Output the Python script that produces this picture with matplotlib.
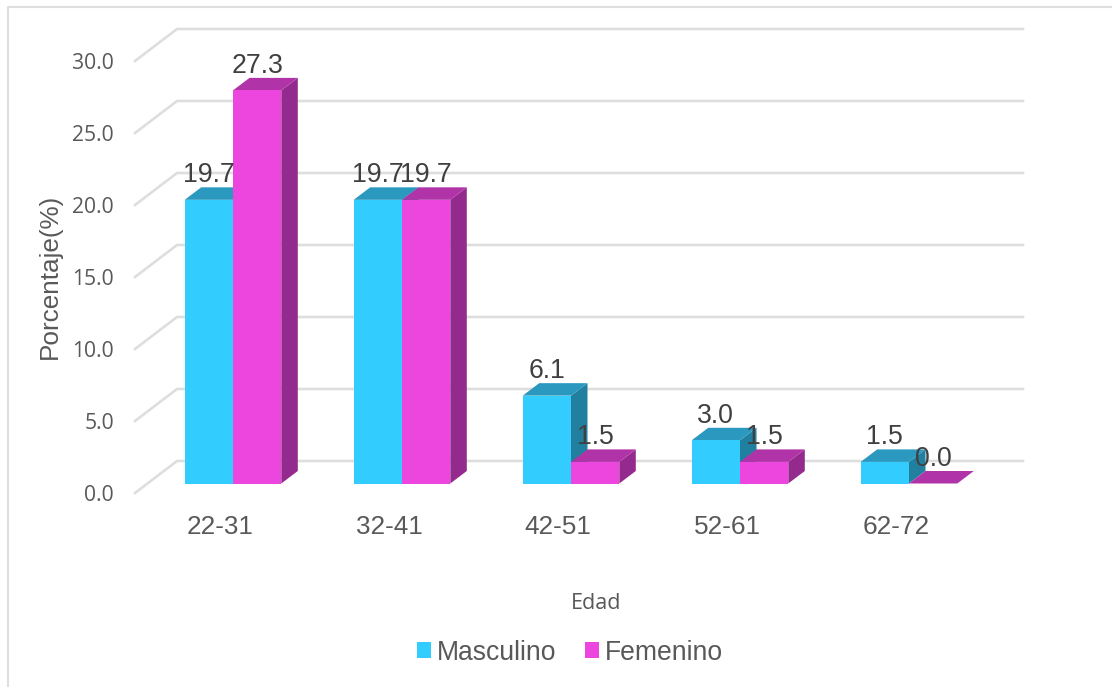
import matplotlib
matplotlib.use("Agg")
import matplotlib.pyplot as plt
from matplotlib.patches import Polygon, Patch, Rectangle

categories = ["22-31", "32-41", "42-51", "52-61", "62-72"]
masculino = [19.7, 19.7, 6.1, 3.0, 1.5]
femenino = [27.3, 19.7, 1.5, 1.5, 0.0]
y_ticks = [0, 5, 10, 15, 20, 25, 30]

W, H = 1112, 687
PX_Y = 14.4      # pixels per percentage point
PX_X = 169.0     # pixels per category
X0 = 220.0       # pixel of first category label
Y0 = 483.5       # pixel of bar baseline
LEFT, RIGHT, BOTTOM, TOP = 135.0, 1023.0, 493.0, 28.5

BLUE = ("#33CCFF", "#2B99BF", "#2180A0")
PINK = ("#EC46DE", "#B033A8", "#952A8E")
GRID = "#DEDEDE"
TICK = "#595959"
LABEL = "#404040"

plt.rcParams["font.family"] = ["Liberation Sans", "DejaVu Sans"]
fig = plt.figure(figsize=(W / 100, H / 100), dpi=100)
ax = fig.add_axes([LEFT / W, 1 - BOTTOM / H, (RIGHT - LEFT) / W, (BOTTOM - TOP) / H])
ax.set_xlim((LEFT - X0) / PX_X, (RIGHT - X0) / PX_X)
ax.set_ylim((Y0 - BOTTOM) / PX_Y, (Y0 - TOP) / PX_Y)
ax.patch.set_alpha(0)
for s in ax.spines.values():
    s.set_visible(False)

# depth of one bar, and position of the walls, in data units
bar_w = 48.3 / PX_X
shift = 13.0 / PX_X
dx_bar, dy_bar = 16.5 / PX_X, 12.5 / PX_Y
wall_dx, front_dy, back_dy = 42.0 / PX_X, (Y0 - BOTTOM) / PX_Y, (Y0 - 461.0) / PX_Y
x_left = ax.get_xlim()[0]
x_right = ax.get_xlim()[1]

for v in y_ticks:
    ax.plot([x_left, x_left + wall_dx, x_right], [v + front_dy, v + back_dy, v + back_dy],
            color=GRID, lw=1.9, solid_joinstyle="miter", clip_on=False, zorder=1)


def bar3d(xl, v, cols, z):
    xr = xl + bar_w
    ax.add_patch(Polygon([(xr, 0), (xr + dx_bar, dy_bar), (xr + dx_bar, v + dy_bar), (xr, v)],
                         fc=cols[2], ec="none", zorder=z, clip_on=False))
    ax.add_patch(Polygon([(xl, v), (xr, v), (xr + dx_bar, v + dy_bar), (xl + dx_bar, v + dy_bar)],
                         fc=cols[1], ec="none", zorder=z, clip_on=False))
    ax.add_patch(Rectangle((xl, 0), bar_w, v, fc=cols[0], ec="none", zorder=z + 0.1, clip_on=False))


for i, (m, f) in enumerate(zip(masculino, femenino)):
    xc = i + shift
    bar3d(xc - bar_w, m, BLUE, 2 + i)
    bar3d(xc, f, PINK, 2.5 + i)
    for x, v in ((xc - bar_w / 2, m), (xc + bar_w / 2, f)):
        ax.annotate(f"{v:.1f}", (x, v), xytext=(0, 12.6), textcoords="offset points",
                    ha="center", va="baseline", fontsize=19.2, color=LABEL, zorder=20,
                    annotation_clip=False)

ax.set_xticks(range(len(categories)))
ax.set_xticklabels(categories, fontsize=18.8, color=TICK)
ax.set_yticks([v + front_dy for v in y_ticks])
ax.set_yticklabels([f"{v:.1f}" for v in y_ticks], fontsize=15.2, color=TICK,
                   family=["Open Sans", "DejaVu Sans"])
ax.tick_params(axis="x", length=0, pad=15.5)
ax.tick_params(axis="y", length=0, pad=15)

ax.set_ylabel("Porcentaje(%)", fontsize=18.8, color=TICK, va="center", ha="center")
ax.yaxis.set_label_coords(50 / W, 1 - 276 / H, transform=fig.transFigure)
ax.set_xlabel("Edad", fontsize=15.5, color=TICK, family=["Open Sans", "DejaVu Sans"], va="center")
ax.xaxis.set_label_coords(595.7 / W, 1 - 603.5 / H, transform=fig.transFigure)

handles = [Patch(fc=BLUE[0], label="Masculino"), Patch(fc=PINK[0], label="Femenino")]
leg = fig.legend(handles=handles, loc="center", bbox_to_anchor=(570 / W, 1 - 652.5 / H), ncol=2,
                 frameon=False, fontsize=19.1, handlelength=0.533, handleheight=0.533,
                 handletextpad=0.22, columnspacing=1.07, borderpad=0, borderaxespad=0)
for t in leg.get_texts():
    t.set_color(TICK)

# chart frame
fig.add_artist(plt.Line2D([8 / W, 8 / W, 1], [0, 1 - 7 / H, 1 - 7 / H],
                          color=GRID, lw=1.5, transform=fig.transFigure))

fig.savefig("out.png", dpi=100)
